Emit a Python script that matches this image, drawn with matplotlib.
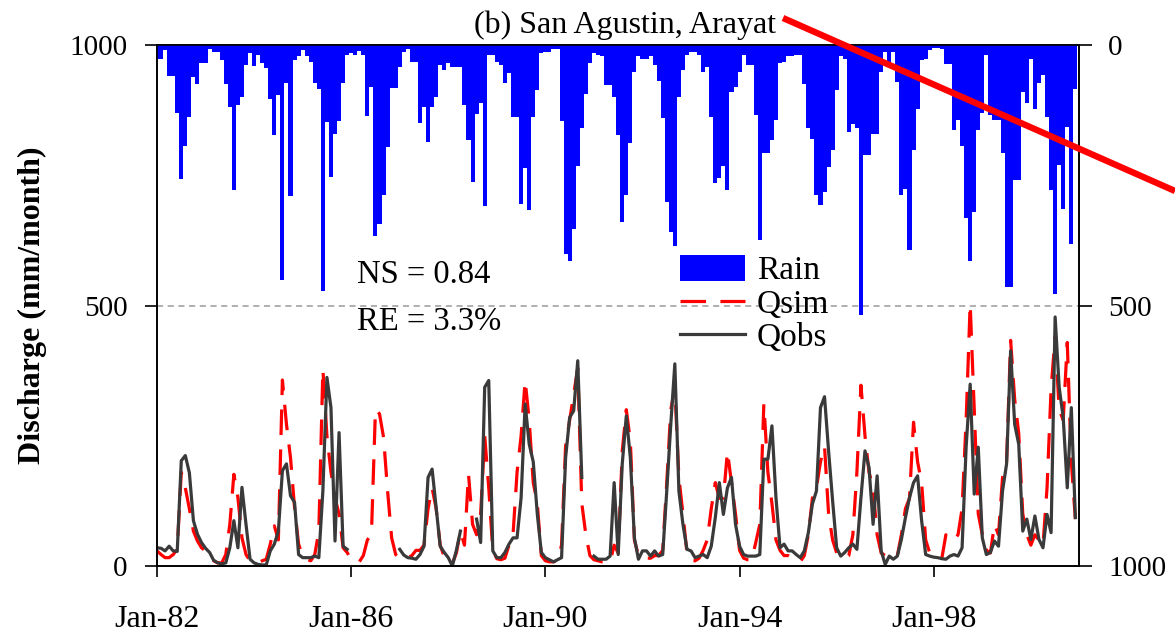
import numpy as np
import matplotlib
matplotlib.use("Agg")
import matplotlib.pyplot as plt
from matplotlib.lines import Line2D
from matplotlib.patches import Patch

plt.rcParams['font.family'] = ['Liberation Serif', 'DejaVu Serif']

# Monthly series, Jan 1982 - Dec 2000
tick_months = [0, 48, 96, 144, 192]
tick_labels = ["Jan-82", "Jan-86", "Jan-90", "Jan-94", "Jan-98"]
left_ticks = [0, 500, 1000]
right_ticks = [0, 500, 1000]

nan = np.nan

rain = [
    26, 26, 10, 60, 60, 131, 258, 194, 139, 61, 74, 34,        # 1982
    34, 8, 13, 13, 29, 74, 119, 279, 116, 99, 38, 16,          # 1983
    40, 19, 35, 45, 103, 173, 96, 452, 72, 290, 29, 22,        # 1984
    10, 22, 32, 72, 85, 472, 147, 254, 170, 145, 72, 19,       # 1985
    15, 19, 12, 19, 137, 80, 367, 343, 288, 196, 83, 83,       # 1986
    42, 13, 8, 32, 32, 149, 119, 186, 119, 99, 38, 48,         # 1987
    35, 42, 42, 42, 115, 183, 263, 133, 112, 309, 19, 19,      # 1988
    32, 38, 72, 54, 139, 139, 306, 237, 316, 138, 87, 16,      # 1989
    14, 14, 8, 8, 145, 401, 415, 353, 233, 160, 94, 35,        # 1990
    16, 19, 22, 77, 77, 99, 173, 340, 288, 188, 51, 22,        # 1991
    27, 27, 22, 38, 70, 141, 301, 359, 385, 100, 48, 19,       # 1992
    13, 13, 19, 51, 42, 139, 265, 256, 233, 279, 90, 80,       # 1993
    51, 19, 38, 38, 135, 375, 207, 207, 183, 144, 34, 32,      # 1994
    22, 22, 19, 19, 74, 160, 180, 288, 308, 282, 234, 202,     # 1995
    87, 22, 26, 167, 151, 160, 519, 212, 212, 170, 170, 51,    # 1996
    13, 42, 13, 71, 288, 276, 394, 202, 122, 29, 26, 10,       # 1997
    6, 6, 8, 36, 36, 163, 144, 194, 333, 415, 321, 163,        # 1998
    131, 19, 135, 144, 144, 208, 465, 465, 260, 260, 90, 112,  # 1999
    26, 122, 72, 58, 138, 279, 478, 231, 314, 157, 381, 85,    # 2000
]

qsim = [
    29, 22, 16, 16, 22, 32, 180, 150, 110, 67, 48, 35,
    29, 16, 10, 6, 6, 22, 80, 176, 131, 54, 22, 10,
    6, 6, 10, 13, 42, 77, 50, 357, 272, 208, 112, 42,
    19, 13, 10, 22, 67, 378, 250, 180, 131, 100, 35, 26,
    12, 8, 8, 20, 50, 60, 301, 292, 247, 144, 54, 22,
    14, 14, 16, 20, 30, 30, 40, 110, 150, 110, 40, 18,
    8, 5, 25, 67, 40, 176, 80, 60, 100, 250, 150, 30,
    14, 12, 15, 40, 60, 180, 250, 356, 280, 160, 120, 20,
    10, 8, 8, 10, 40, 230, 280, 330, 380, 120, 60, 20,
    12, 10, 8, 8, 8, 40, 25, 220, 300, 240, 50, 20,
    15, 15, 15, 20, 20, 30, 160, 300, 343, 170, 100, 25,
    10, 10, 15, 30, 50, 110, 160, 130, 130, 220, 160, 100,
    30, 15, 12, 12, 45, 80, 311, 180, 120, 50, 30, 20,
    20, 15, 10, 8, 20, 60, 130, 150, 200, 230, 100, 50,
    25, 18, 15, 20, 60, 180, 347, 250, 180, 150, 60, 25,
    20, 15, 15, 20, 60, 110, 130, 276, 200, 160, 50, 25,
    20, 15, 15, 60, 50, 50, 60, 110, 280, 503, 300, 100,
    60, 30, 25, 80, 60, 170, 200, 433, 320, 255, 100, 60,
    40, 60, 50, 40, 150, 340, 440, 300, 280, 429, 200, 90,
]

qobs = [
    35, 34, 29, 38, 29, 28, 202, 212, 179, 87, 61, 45,
    34, 26, 11, 6, 4, 6, 35, 87, 35, 151, 80, 13,
    6, 3, 2, 2, 29, 42, 67, 183, 196, 135, 122, 22,
    16, 16, 16, 19, 16, 144, 362, 304, 48, 256, 38, 32,
    nan, nan, nan, nan, nan, nan, nan, nan, nan, nan, nan, nan,
    32, 21, 16, 15, 13, 22, 38, 170, 186, 112, 38, 26,
    16, 0, 30, 67, nan, nan, nan, 90, 45, 343, 356, 29,
    16, 16, 26, 42, 54, 54, 131, 311, 234, 200, 100, 26,
    16, 12, 8, 12, 16, 208, 285, 298, 394, 170, nan, nan,
    19, 13, 13, 13, 19, 160, 22, 196, 288, 208, 54, 13,
    29, 29, 19, 29, 19, 22, 144, 272, 388, 144, 80, 32,
    29, 16, 19, 22, 16, 38, 93, 160, 99, 150, 170, 80,
    38, 22, 19, 19, 19, 22, 205, 205, 269, 131, 35, 42,
    29, 29, 22, 16, 29, 64, 119, 144, 304, 325, 221, 125,
    35, 19, 26, 35, 42, 32, 131, 221, 189, 80, 173, 29,
    3, 19, 13, 19, 51, 93, 131, 160, 173, 87, 22, 19,
    17, 16, 14, 13, 19, 22, 19, 35, 228, 349, 138, 228,
    54, 22, 26, 48, 38, 144, 196, 413, 272, 234, 67, 90,
    51, 96, 51, 35, 99, 64, 478, 343, 285, 150, 304, 93,
]

months = np.arange(len(rain))

W, H = 1175, 636
fig = plt.figure(figsize=(W / 100, H / 100), dpi=100)
x0, x1, y0, y1 = 157, 1079, 45, 566
ax = fig.add_axes([x0 / W, 1 - y1 / H, (x1 - x0) / W, (y1 - y0) / H])
ax2 = ax.twinx()

# discharge (left axis)
ax.axhline(500, color="#9a9a9a", lw=1.1, ls=(0, (4, 3)), zorder=1)
ax.plot(months, qsim, color="#ff0000", lw=2.3, ls=(0, (8, 4.5)), zorder=3)
ax.plot(months, qobs, color="#3a3a3a", lw=2.3, zorder=4)
ax.set_ylim(0, 1000)
ax.set_xlim(0, 227.9)
ax.set_yticks(left_ticks)
ax.set_xticks(tick_months)
ax.set_xticklabels(tick_labels)
ax.set_ylabel("Discharge (mm/month)", fontsize=23, fontweight="bold", labelpad=16)

# rainfall (right axis, inverted)
ax2.bar(months, rain, width=1.0, color="#0000ff", linewidth=0, zorder=2)
ax2.set_ylim(1000, 0)
ax2.set_yticks(right_ticks)

for a in (ax, ax2):
    for s in a.spines.values():
        s.set_linewidth(1.2)
        s.set_color("black")
ax.tick_params(axis="x", direction="out", length=8, width=1.2, labelsize=23, pad=20)
ax.tick_params(axis="y", direction="out", length=9, width=1.2, labelsize=21, pad=12)
ax2.tick_params(axis="y", direction="out", length=9, width=1.2, labelsize=21, pad=12)

ax.text(0.217, 0.559, "NS = 0.84", transform=ax.transAxes, fontsize=23.5, va="center", ha="left")
ax.text(0.217, 0.468, "RE = 3.3%", transform=ax.transAxes, fontsize=23.5, va="center", ha="left")

handles = [Patch(facecolor="#0000ff", edgecolor="none"),
           Line2D([], [], color="#ff0000", lw=2.3, ls=(0, (8, 4.5))),
           Line2D([], [], color="#3a3a3a", lw=2.3)]
ax2.legend(handles, ["Rain", "Qsim", "Qobs"], loc="upper left",
           bbox_to_anchor=((680 - x0) / (x1 - x0), (y1 - 255) / (y1 - y0)),
           frameon=False, fontsize=24, handlelength=1.95, handleheight=0.8,
           handletextpad=0.35, labelspacing=0.06, borderpad=0, borderaxespad=0)

fig.text(625 / W, 1 - 25 / H, "(b) San Agustin, Arayat", fontsize=23, ha="center", va="center")

fig.add_artist(Line2D([783 / W, 1.0], [1 - 18 / H, 1 - 191 / H], transform=fig.transFigure,
                      color="#ff0000", lw=4.6, solid_capstyle="butt"))

fig.savefig("out.png", dpi=100)
